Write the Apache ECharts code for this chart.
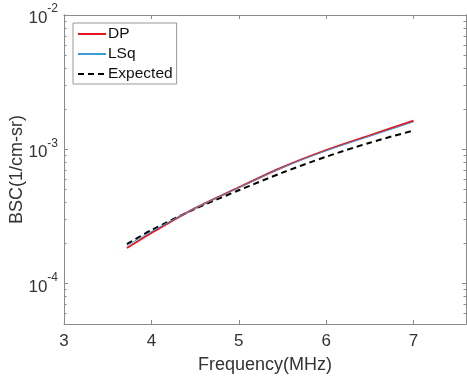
<!DOCTYPE html>
<html>
<head>
<meta charset="utf-8">
<script src="https://cdn.jsdelivr.net/npm/echarts@6/dist/echarts.min.js"></script>
<style>
html,body{margin:0;padding:0;background:#fff;}
#chart{width:467px;height:377px;}
</style>
</head>
<body>
<div id="chart"></div>
<script>
// Data
const freq = [3.72, 4.0, 4.5, 5.0, 5.5, 6.0, 6.5, 7.0];
const dp = [1.84e-4, 2.38e-4, 3.64e-4, 5.2e-4, 7.35e-4, 9.85e-4, 1.27e-3, 1.63e-3];
const lsq = [1.92e-4, 2.44e-4, 3.64e-4, 5.17e-4, 7.3e-4, 9.75e-4, 1.25e-3, 1.60e-3];
const expected = [1.97e-4, 2.5e-4, 3.6e-4, 4.95e-4, 6.7e-4, 8.8e-4, 1.12e-3, 1.38e-3];
const xTicks = [3, 4, 5, 6, 7];
const yMajor = [1e-4, 1e-3, 1e-2];
const yMinor = [6e-5, 7e-5, 8e-5, 9e-5,
  2e-4, 3e-4, 4e-4, 5e-4, 6e-4, 7e-4, 8e-4, 9e-4,
  2e-3, 3e-3, 4e-3, 5e-3, 6e-3, 7e-3, 8e-3, 9e-3];

const FONT = '"Liberation Sans", Arial, sans-serif';
const LINE = '#8a8a8a';
const TXT = '#333333';

function pairs(ys) { return freq.map((f, i) => [f, ys[i]]); }

const chart = echarts.init(document.getElementById('chart'));
const yBase = {
  type: 'log', logBase: 10, min: 5e-5, max: 1e-2,
  splitLine: { show: false },
  axisLine: { show: true, lineStyle: { color: LINE, width: 1 } },
};
chart.setOption({
  animation: false,
  backgroundColor: '#fff',
  textStyle: { fontFamily: FONT },
  grid: { left: 64, right: 1, top: 15, bottom: 53, outerBoundsMode: 'none', containLabel: false },
  legend: {
    orient: 'vertical', left: 73, top: 23,
    backgroundColor: '#fff', borderColor: '#999', borderWidth: 1,
    padding: [3, 4, 2, 4], itemWidth: 28, itemHeight: 16, itemGap: 4,
    itemStyle: { opacity: 0 },
    textStyle: { fontFamily: FONT, fontSize: 15.5, color: '#111', lineHeight: 16, padding: [0, 0, 0, -3] },
    data: ['DP', 'LSq', 'Expected']
  },
  xAxis: [{
    type: 'value', min: 3, max: 7.6, interval: 1, position: 'bottom',
    name: 'Frequency(MHz)', nameLocation: 'middle', nameGap: 32, nameMoveOverlap: false,
    nameTextStyle: { fontFamily: FONT, fontSize: 18, color: TXT },
    splitLine: { show: false },
    axisLine: { show: true, onZero: false, lineStyle: { color: LINE } },
    axisTick: { show: true, inside: true, length: 4, lineStyle: { color: LINE }, customValues: xTicks },
    axisLabel: { customValues: xTicks, fontFamily: FONT, fontSize: 17, color: TXT, margin: 9 }
  }, {
    type: 'value', min: 3, max: 7.6, interval: 1, position: 'top',
    splitLine: { show: false },
    axisLine: { show: true, onZero: false, lineStyle: { color: LINE } },
    axisTick: { show: true, inside: true, length: 4, lineStyle: { color: LINE }, customValues: xTicks },
    axisLabel: { show: false }
  }],
  yAxis: [Object.assign({}, yBase, {
    position: 'left',
    name: 'BSC(1/cm-sr)', nameLocation: 'middle', nameGap: 38, nameMoveOverlap: false,
    nameTextStyle: { fontFamily: FONT, fontSize: 18, color: TXT },
    axisTick: { show: true, inside: true, length: 4, lineStyle: { color: LINE }, customValues: yMajor },
    axisLabel: {
      customValues: yMajor, margin: 6,
      formatter: function (v) { return '{a|10}{b|' + Math.round(Math.log10(v)) + '}'; },
      rich: {
        a: { fontFamily: FONT, fontSize: 17, color: TXT, lineHeight: 24, verticalAlign: 'bottom' },
        b: { fontFamily: FONT, fontSize: 12, color: TXT, lineHeight: 24, verticalAlign: 'top' }
      }
    }
  }), Object.assign({}, yBase, {
    position: 'left', offset: 0,
    axisTick: { show: true, inside: true, length: 2.5, lineStyle: { color: LINE }, customValues: yMinor },
    axisLabel: { show: false }
  }), Object.assign({}, yBase, {
    position: 'right', offset: 0,
    axisTick: { show: true, inside: true, length: 4, lineStyle: { color: LINE }, customValues: yMajor },
    axisLabel: { show: false }
  }), Object.assign({}, yBase, {
    position: 'right', offset: 0,
    axisTick: { show: true, inside: true, length: 2.5, lineStyle: { color: LINE }, customValues: yMinor },
    axisLabel: { show: false }
  })],
  series: [{
    name: 'DP', type: 'line', data: pairs(dp), smooth: 0.3, symbol: 'none',
    lineStyle: { color: '#e8141c', width: 2 }, itemStyle: { color: '#e8141c' }, z: 3
  }, {
    name: 'LSq', type: 'line', data: pairs(lsq), smooth: 0.3, symbol: 'none',
    lineStyle: { color: '#3d9bd6', width: 1 }, itemStyle: { color: '#3d9bd6' }, z: 4
  }, {
    name: 'Expected', type: 'line', data: pairs(expected), smooth: 0.3, symbol: 'none',
    lineStyle: { color: '#000', width: 2, type: [6, 4] }, itemStyle: { color: '#000' }, z: 2
  }]
});
</script>
</body>
</html>
